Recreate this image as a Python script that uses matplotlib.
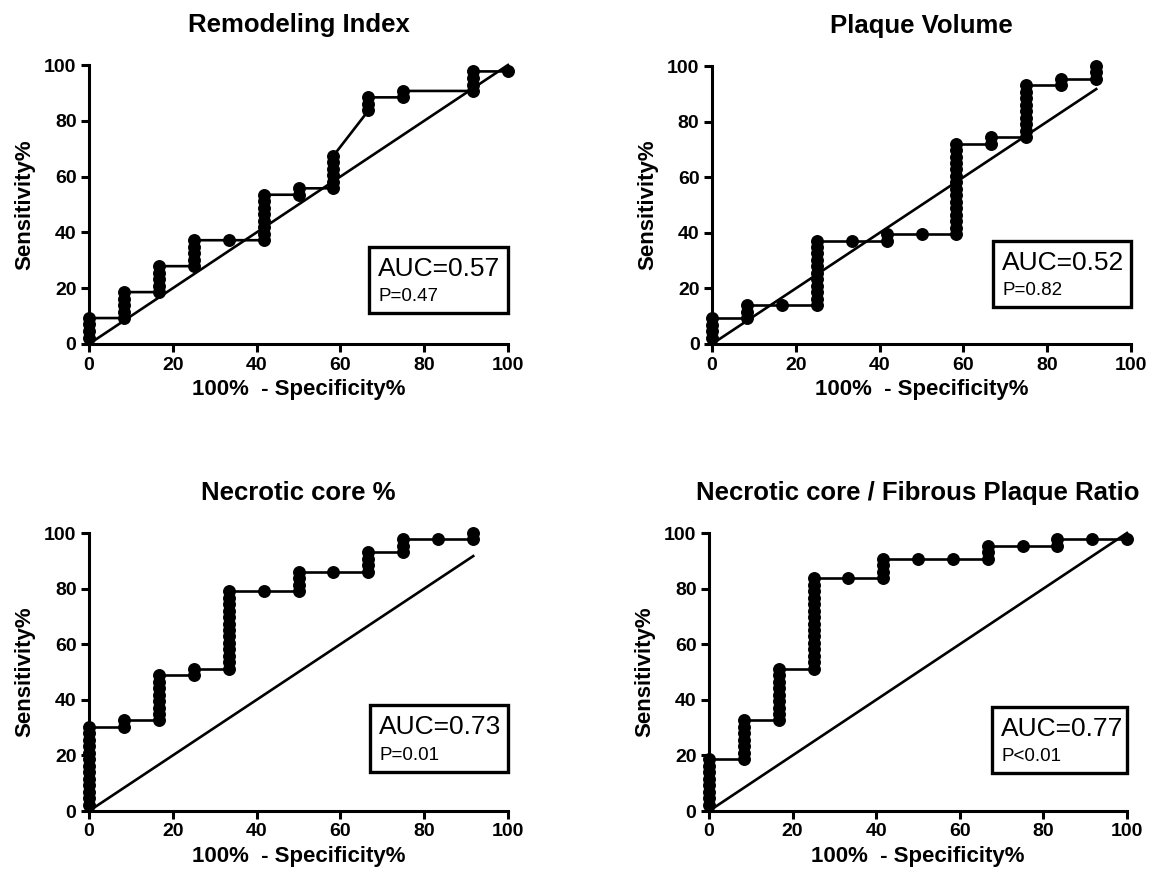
import matplotlib
matplotlib.use("Agg")
import matplotlib.pyplot as plt
from matplotlib.patches import Rectangle

plt.rcParams['font.family'] = ['Liberation Sans', 'DejaVu Sans']

# ---------------- data (ROC points: 100%-specificity, sensitivity%) ----------------
titles = ["Remodeling Index", "Plaque Volume", "Necrotic core %",
          "Necrotic core / Fibrous Plaque Ratio"]
auc_labels = ["AUC=0.57", "AUC=0.52", "AUC=0.73", "AUC=0.77"]
p_labels = ["P=0.47", "P=0.82", "P=0.01", "P<0.01"]
diag_end = [100, 91.7, 91.7, 100]

ri_fpr = [0, 8.3, 16.7, 25, 33.3, 41.7, 50, 58.3, 66.7, 75, 91.7, 100]
ri_tpr = [[2.3, 4.7, 7.0, 9.3],
          [9.3, 11.6, 14.0, 16.3, 18.6],
          [18.6, 20.9, 23.3, 25.6, 27.9],
          [27.9, 30.2, 32.6, 34.9, 37.2],
          [37.2],
          [37.2, 39.5, 41.9, 44.2, 46.5, 48.8, 51.2, 53.5],
          [53.5, 55.8],
          [55.8, 58.1, 60.5, 62.8, 65.1, 67.4],
          [83.7, 86.0, 88.4],
          [88.4, 90.7],
          [90.7, 93.0, 95.3, 97.7],
          [97.7]]

pv_fpr = [0, 8.3, 16.7, 25, 33.3, 41.7, 50, 58.3, 66.7, 75, 83.3, 91.7]
pv_tpr = [[2.3, 4.7, 7.0, 9.3],
          [9.3, 11.6, 14.0],
          [14.0],
          [14.0, 16.3, 18.6, 20.9, 23.3, 25.6, 27.9, 30.2, 32.6, 34.9, 37.2],
          [37.2],
          [37.2, 39.5],
          [39.5],
          [39.5, 41.9, 44.2, 46.5, 48.8, 51.2, 53.5, 55.8, 58.1, 60.5, 62.8,
           65.1, 67.4, 69.8, 72.1],
          [72.1, 74.4],
          [74.4, 76.7, 79.1, 81.4, 83.7, 86.0, 88.4, 90.7, 93.0],
          [93.0, 95.3],
          [95.3, 97.7, 100]]

nc_fpr = [0, 8.3, 16.7, 25, 33.3, 41.7, 50, 58.3, 66.7, 75, 83.3, 91.7]
nc_tpr = [[2.3, 4.7, 7.0, 9.3, 11.6, 14.0, 16.3, 18.6, 20.9, 23.3, 25.6, 27.9, 30.2],
          [30.2, 32.6],
          [32.6, 34.9, 37.2, 39.5, 41.9, 44.2, 46.5, 48.8],
          [48.8, 51.2],
          [51.2, 53.5, 55.8, 58.1, 60.5, 62.8, 65.1, 67.4, 69.8, 72.1, 74.4, 76.7, 79.1],
          [79.1],
          [79.1, 81.4, 83.7, 86.0],
          [86.0],
          [86.0, 88.4, 90.7, 93.0],
          [93.0, 95.3, 97.7],
          [97.7],
          [97.7, 100]]

nf_fpr = [0, 8.3, 16.7, 25, 33.3, 41.7, 50, 58.3, 66.7, 75, 83.3, 91.7, 100]
nf_tpr = [[2.3, 4.7, 7.0, 9.3, 11.6, 14.0, 16.3, 18.6],
          [18.6, 20.9, 23.3, 25.6, 27.9, 30.2, 32.6],
          [32.6, 34.9, 37.2, 39.5, 41.9, 44.2, 46.5, 48.8, 51.2],
          [51.2, 53.5, 55.8, 58.1, 60.5, 62.8, 65.1, 67.4, 69.8, 72.1, 74.4,
           76.7, 79.1, 81.4, 83.7],
          [83.7],
          [83.7, 86.0, 88.4, 90.7],
          [90.7],
          [90.7],
          [90.7, 93.0, 95.3],
          [95.3],
          [95.3, 97.7],
          [97.7],
          [97.7]]

ticks = [0, 20, 40, 60, 80, 100]

curves = [(ri_fpr, ri_tpr), (pv_fpr, pv_tpr), (nc_fpr, nc_tpr), (nf_fpr, nf_tpr)]

# ---------------- layout ----------------
W, H = 1153, 874
fig = plt.figure(figsize=(W / 100, H / 100), dpi=100)

# axes rectangles in pixels: (x0, x100, ytop(100), ybottom(0))
rects = [(89, 508, 65, 344), (712, 1131, 66, 344),
         (89, 508, 533, 811), (709, 1127, 533, 811)]
boxes = [(0.668, 1.0, 0.348, 0.111), (0.671, 1.0, 0.370, 0.133),
         (0.671, 1.0, 0.381, 0.140), (0.677, 1.0, 0.374, 0.137)]

for i in range(4):
    x0, x1, yt, yb = rects[i]
    ax = fig.add_axes([x0 / W, 1 - yb / H, (x1 - x0) / W, (yb - yt) / H])
    fpr, tpr = curves[i]
    xs, ys = [], []
    for fx, col in zip(fpr, tpr):
        for v in col:
            xs.append(fx)
            ys.append(v)
    ax.plot([0, diag_end[i]], [0, diag_end[i]], color='black', lw=1.9,
            clip_on=False, zorder=2)
    ax.plot(xs, ys, color='black', lw=1.9, marker='o', ms=8.3,
            clip_on=False, zorder=3)
    ax.set_xlim(0, 100)
    ax.set_ylim(0, 100)
    ax.set_xticks(ticks)
    ax.set_yticks(ticks)
    for s in ['top', 'right']:
        ax.spines[s].set_visible(False)
    for s in ['left', 'bottom']:
        ax.spines[s].set_linewidth(2.2)
    ax.tick_params(axis='both', length=6, width=2.2, labelsize=14,
                   direction='out', pad=3)
    for lab in ax.get_xticklabels() + ax.get_yticklabels():
        lab.set_fontweight('bold')
    ax.set_xlabel("100%  - Specificity%", fontsize=16, fontweight='bold',
                  labelpad=4)
    ax.set_ylabel("Sensitivity%", fontsize=16, fontweight='bold', labelpad=6)
    ax.set_title(titles[i], fontsize=18.5, fontweight='bold', pad=24)

    bl, br, bt, bb = boxes[i]
    ax.add_patch(Rectangle((bl, bb), br - bl, bt - bb, transform=ax.transAxes,
                           fill=True, facecolor='white', edgecolor='black',
                           lw=2.4, clip_on=False, zorder=5))
    ax.text(bl + 0.022, bt - 0.035, auc_labels[i], transform=ax.transAxes,
            fontsize=19, ha='left', va='top', zorder=6)
    ax.text(bl + 0.022, bb + 0.03, p_labels[i], transform=ax.transAxes,
            fontsize=13.5, ha='left', va='bottom', zorder=6)

fig.savefig("out.png", dpi=100)
